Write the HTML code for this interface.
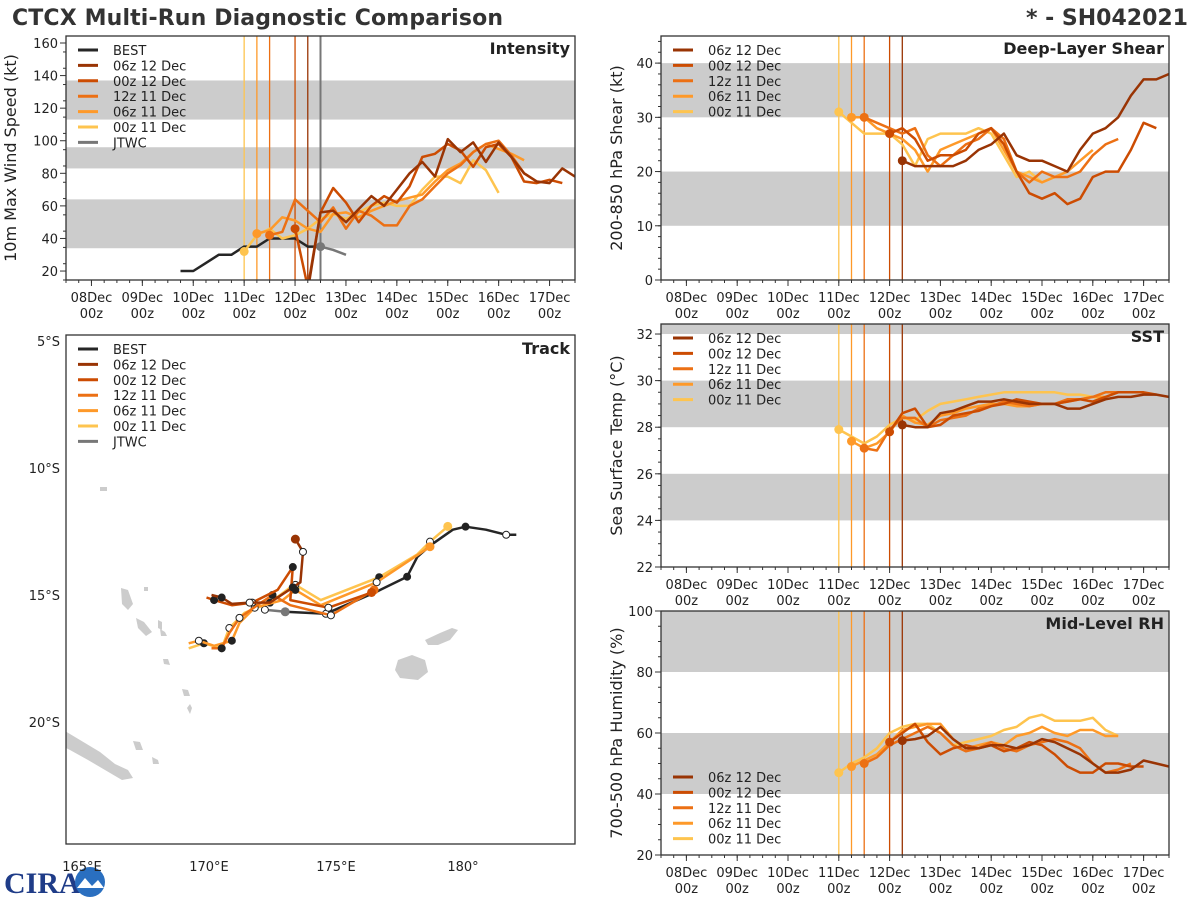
<!DOCTYPE html>
<html><head><meta charset="utf-8"><style>
body{margin:0;background:#fff;}
svg{display:block;font-family:"DejaVu Sans","Liberation Sans",sans-serif;}
</style></head><body>
<svg id="s" width="1200" height="900" viewBox="0 0 1200 900">
<text x="12" y="25" font-size="22" font-weight="bold" fill="#333" textLength="491">CTCX Multi-Run Diagnostic Comparison</text>
<text x="1188" y="25" font-size="22" font-weight="bold" fill="#333" text-anchor="end">* - SH042021</text>
<g>
<text x="4" y="893" font-size="30" font-weight="bold" fill="#1f3c88" font-family="Liberation Serif,serif">CIRA</text>
<circle cx="90" cy="882" r="15" fill="#2a6fc0"/>
<path d="M77,888 L85,878 L92,886 L98,880 L104,888 Z" fill="#fff"/>
</g>
</svg>
<script>
// ---- data ----
const seriesNames = ["06z 12 Dec","00z 12 Dec","12z 11 Dec","06z 11 Dec","00z 11 Dec"];
const seriesStart = [4.25, 4.0, 3.5, 3.25, 3.0];
const bestStart = 1.75;
const bestIntensity = [20,20,25,30,30,35,35,40,40,40,35,35];
const jtwcStart = 4.5;
const jtwcIntensity = [35,33,30];
const int06z12 = [8,56,57,50,58,66,60,70,80,87,78,101,93,99,87,99,90,80,75,74,83,78];
const int00z12 = [46,10,56,71,62,50,60,66,62,72,90,92,98,94,84,96,98,90,75,74,76,74];
const int12z11 = [42,44,64,57,50,59,46,57,54,48,48,60,64,72,80,85,93,98,100,91,80,75];
const int06z11 = [43,45,53,51,46,44,55,56,53,57,60,63,65,67,75,82,86,93,98,95,92,88];
const int00z11 = [32,42,46,40,42,46,52,55,52,56,60,62,60,60,70,78,78,74,88,82,68];
const shr06z12 = [22,21,21,21,21,22,24,25,27,23,22,22,21,20,24,27,28,30,34,37,37,38];
const shr00z12 = [27,28,26,22,23,23,24,27,28,25,20,16,15,16,14,15,19,20,20,24,29,28];
const shr12z11 = [30,29,28,27,28,23,21,23,25,26,28,26,20,18,20,19,19,20,23,25,26];
const shr06z11 = [30,30,28,27,26,24,20,24,25,26,27,28,24,20,19,18,19,20,22,24];
const shr00z11 = [31,29,27,27,27,25,21,26,27,27,27,28,27,23,19,20,18,19,20];
const sst06z12 = [28.1,28.0,28.0,28.6,28.7,28.9,29.1,29.1,29.2,29.1,29.0,29.0,29.0,28.8,28.8,29.0,29.2,29.3,29.3,29.4,29.4,29.3];
const sst00z12 = [27.8,28.6,28.8,28.0,28.1,28.5,28.6,28.7,28.9,29.0,29.2,29.1,29.0,29.0,29.1,29.2,29.1,29.3,29.5,29.5,29.5,29.4];
const sst12z11 = [27.1,27.0,27.9,28.4,28.4,28.0,28.3,28.4,28.5,28.8,28.9,29.1,29.0,28.9,29.0,29.0,29.2,29.2,29.3,29.5,29.5,29.5];
const sst06z11 = [27.4,27.1,27.3,27.8,28.5,28.2,28.1,28.5,28.6,28.8,28.9,29.0,29.0,28.9,28.9,29.0,29.0,29.1,29.2,29.3,29.3];
const sst00z11 = [27.9,27.6,27.3,27.6,28.1,28.4,28.3,28.7,29.0,29.1,29.2,29.3,29.4,29.5,29.5,29.5,29.5,29.5,29.4,29.4,29.3,29.2];
const rh06z12 = [57.5,58,59,62,58,55,55,56,56,55,56,58,57,55,53,50,47,47,48,51,50,49];
const rh00z12 = [57,60,63,57,53,55,56,55,56,54,55,57,56,53,49,47,47,50,50,49,49];
const rh12z11 = [50,52,56,58,60,62,60,56,54,55,57,55,54,56,57,58,57,55,50,47,48,50];
const rh06z11 = [49,51,53,57,61,62,63,63,58,55,56,57,56,59,60,62,60,59,61,61,59,59];
const rh00z11 = [47,50,52,55,60,62,63,63,60,56,57,58,59,61,62,65,66,64,64,64,65,61,59];
// tracks (lon degE, lat degS)
const bestLon = [182.1,181.7,180.9,180.1,179.6,178.7,178.2,177.8,176.6,174.6,173.0];
const bestLat = [12.63,12.63,12.43,12.31,12.43,13.06,13.50,14.28,14.87,15.74,15.66];
const jtwcLon = [173.0,172.2];
const jtwcLat = [15.66,15.58];
const trk06z12Lon = [173.4,173.7,173.6,173.3,172.4,171.6,170.9,170.5,170.1];
const trk06z12Lat = [12.8,13.3,14.5,14.7,15.3,15.3,15.35,15.1,15.0];
const trk00z12Lon = [176.4,174.7,173.2,173.3,172.7,171.7,170.9,170.2,169.9];
const trk00z12Lat = [14.9,15.5,15.2,13.9,14.8,15.3,15.4,15.2,15.1];
const trk12z11Lon = [176.5,174.8,173.2,172.5,171.9,171.2,170.8,170.5,170.1];
const trk12z11Lat = [14.8,15.8,15.4,15.0,15.4,15.9,16.5,17.1,17.1];
const trk06z11Lon = [178.7,176.6,174.4,173.4,172.9,171.8,171.2,170.9,170.2,169.6,169.2];
const trk06z11Lat = [13.1,14.5,15.4,14.8,15.2,15.5,16.1,16.8,17.0,16.8,16.9];
const trk00z11Lon = [179.4,178.7,178.2,176.7,174.4,173.4,173.2,172.4,171.4,170.8,170.5,169.8,169.2];
const trk00z11Lat = [12.3,12.9,13.4,14.3,15.2,14.6,14.7,15.3,15.7,16.3,17.1,16.9,17.1];
const shearBands = [[10,20],[30,40]];
const sstBands = [[24,26],[28,30],[32,33]];
const rhBands = [[40,60],[80,100]];
const intBands = [[34,64],[83,96],[113,137]];
const dayLabels = ["08Dec","09Dec","10Dec","11Dec","12Dec","13Dec","14Dec","15Dec","16Dec","17Dec"];
const initTimes = [3.0,3.25,3.5,4.0,4.25];

const colors = ["#993404","#cc4c02","#ec7014","#fe9929","#fec44f"];
const NS="http://www.w3.org/2000/svg";
const svg=document.getElementById('s');
function mk(tag,attrs,parent){const e=document.createElementNS(NS,tag);for(const k in attrs)e.setAttribute(k,attrs[k]);(parent||svg).appendChild(e);return e;}
function txt(x,y,s,attrs,parent){const e=mk('text',Object.assign({x:x,y:y,'font-size':13,fill:'#222'},attrs||{}),parent);e.textContent=s;return e;}

function timePanel(o){
  const g=mk('g',{});
  
  
  const X=d=>o.x0+(d+0.5)/10*(o.x1-o.x0);
  const Y=v=>o.y1-(v-o.vmin)/(o.vmax-o.vmin)*(o.y1-o.y0);
  const clip='c'+o.name;
  const cp=mk('clipPath',{id:clip},g);mk('rect',{x:o.x0,y:o.y0,width:o.x1-o.x0,height:o.y1-o.y0},cp);
  o.bands.forEach(b=>{const r=mk('rect',{x:o.x0,y:Y(Math.min(b[1],o.vmax)),width:o.x1-o.x0,height:Y(b[0])-Y(Math.min(b[1],o.vmax)),fill:'#cccccc'},g);
    });
  o.yticks.forEach(v=>{mk('line',{x1:o.x0-6,x2:o.x0,y1:Y(v),y2:Y(v),stroke:'#333'},g);
    const t=txt(o.x0-8,Y(v)+5,String(v),{'text-anchor':'end','font-size':13},g);
    });
  for(let v=o.vmin;v<=o.vmax;v+=o.minor){mk('line',{x1:o.x0-3,x2:o.x0,y1:Y(v),y2:Y(v),stroke:'#333'},g);}
  dayLabels.forEach((l,i)=>{mk('line',{x1:X(i),x2:X(i),y1:o.y1,y2:o.y1+6,stroke:'#333'},g);
    const t=txt(X(i),o.y1+22,l,{'text-anchor':'middle','font-size':13},g);
    
    const t2=txt(X(i),o.y1+38,'00z',{'text-anchor':'middle','font-size':13},g);
    });
  for(let d=-0.5;d<=9.5;d+=0.25){mk('line',{x1:X(d),x2:X(d),y1:o.y1,y2:o.y1+3,stroke:'#333'},g);}
  initTimes.forEach((t,i)=>{const l=mk('line',{x1:X(t),x2:X(t),y1:o.y0,y2:o.y1,stroke:colors[4-i],'stroke-width':1.3},g);
    });
  if(o.jtwcLine){const l=mk('line',{x1:X(4.5),x2:X(4.5),y1:o.y0,y2:o.y1,stroke:'#777','stroke-width':2},g);
    }
  const lg=mk('g',{'clip-path':'url(#'+clip+')'},g);
  function series(vals,start,col,nm,marker){
    const pts=vals.map((v,i)=>X(start+i*0.25).toFixed(1)+','+Y(v).toFixed(1)).join(' ');
    const p=mk('polyline',{points:pts,fill:'none',stroke:col,'stroke-width':2.5,'stroke-linejoin':'round'},lg);
    
    if(marker){const c=mk('circle',{cx:X(start),cy:Y(vals[0]),r:4.5,fill:col},lg);
    }
  }
  if(o.best){series(o.best,bestStart,'#262626','best-series',false);}
  if(o.jtwc){series(o.jtwc,jtwcStart,'#777777','jtwc-series',true);}
  for(let i=4;i>=0;i--) series(o.data[i],seriesStart[i],colors[i],'series-'+seriesNames[i].replace(/ /g,'-').toLowerCase(),true);
  mk('rect',{x:o.x0,y:o.y0,width:o.x1-o.x0,height:o.y1-o.y0,fill:'none',stroke:'#333','stroke-width':1.3},g);
  const tt=txt(o.x1-5,o.y0+18,o.title,{'text-anchor':'end','font-size':16,'font-weight':'bold',fill:'#222'},g);
  
  const yl=txt(0,0,o.ylabel,{'text-anchor':'middle','font-size':16,transform:'translate('+o.ylx+','+((o.y0+o.y1)/2)+') rotate(-90)'},g);
  
  let names=o.best?["BEST"].concat(seriesNames,["JTWC"]):seriesNames;
  let cols=o.best?["#262626"].concat(colors,["#777777"]):colors;
  const ly=o.legendY||(o.y0+14);
  names.forEach((n,i)=>{const y=ly+i*15.4;
    const l=mk('line',{x1:o.x0+12,x2:o.x0+32,y1:y,y2:y,stroke:cols[i],'stroke-width':3},g);
    
    const t=txt(o.x0+47,y+5,n,{'font-size':13},g);
    });
}
timePanel({name:'intensity',x0:66,x1:575,y0:36,y1:280,vmin:14.5,vmax:164.3,yticks:[20,40,60,80,100,120,140,160],minor:10,bands:intBands,title:'Intensity',ylabel:'10m Max Wind Speed (kt)',ylx:16,data:[int06z12,int00z12,int12z11,int06z11,int00z11],best:bestIntensity,jtwc:jtwcIntensity,jtwcLine:true});
timePanel({name:'shear',x0:661,x1:1169,y0:36,y1:280,vmin:0,vmax:45,yticks:[0,10,20,30,40],minor:2,bands:shearBands,title:'Deep-Layer Shear',ylabel:'200-850 hPa Shear (kt)',ylx:622,data:[shr06z12,shr00z12,shr12z11,shr06z11,shr00z11]});
timePanel({name:'sst',x0:661,x1:1169,y0:324,y1:567,vmin:22,vmax:32.43,yticks:[22,24,26,28,30,32],minor:0.5,bands:sstBands,title:'SST',ylabel:'Sea Surface Temp (°C)',ylx:622,data:[sst06z12,sst00z12,sst12z11,sst06z11,sst00z11]});
timePanel({name:'rh',x0:661,x1:1169,y0:611,y1:855,vmin:20,vmax:100,yticks:[20,40,60,80,100],minor:5,bands:rhBands,title:'Mid-Level RH',ylabel:'700-500 hPa Humidity (%)',ylx:622,legendY:777,data:[rh06z12,rh00z12,rh12z11,rh06z11,rh00z11]});
// ---- track panel ----
(function(){
  const x0=66,x1=575,y0=335,y1=844;
  const X=lon=>82+(lon-165)*25.4, Y=lat=>341+(lat-5)*25.4;
  const g=mk('g',{});
  
  
  const cp=mk('clipPath',{id:'ctrk'},g);mk('rect',{x:x0,y:y0,width:x1-x0,height:y1-y0},cp);
  const land=mk('g',{'clip-path':'url(#ctrk)',fill:'#cccccc'},g);
  
  const isl=["M60,728 L80,740 L100,752 L115,764 L128,770 L133,778 L122,780 L105,770 L88,760 L70,750 L60,745Z",
   "M398,660 L412,655 L425,660 L428,672 L418,680 L400,678 L395,670Z",
   "M425,640 L440,633 L452,628 L458,630 L450,640 L438,645 L428,645Z",
   "M121,588 L128,590 L133,604 L128,610 L122,604Z","M136,618 L144,622 L152,632 L146,636 L138,628Z",
   "M158,620 L162,622 L162,630 L158,628Z","M160,629 L165,632 L167,636 L161,636Z",
   "M163,659 L168,659 L170,665 L164,664Z","M182,689 L188,690 L190,696 L184,696Z","M190,704 L192,708 L190,714 L187,708Z",
   "M133,741 L140,742 L143,750 L136,750Z","M152,757 L158,760 L159,764 L153,764Z","M100,487 L107,487 L107,491 L100,491Z","M144,587 L148,587 L148,591 L144,591Z"];
  isl.forEach(d=>{const p=mk('path',{d:d},land);});
  const tg=mk('g',{'clip-path':'url(#ctrk)'},g);
  function track(lons,lats,col,nm,startMarker){
    const pts=lons.map((v,i)=>X(v).toFixed(1)+','+Y(lats[i]).toFixed(1)).join(' ');
    const p=mk('polyline',{points:pts,fill:'none',stroke:col,'stroke-width':2.5,'stroke-linejoin':'round'},tg);
    
    lons.forEach((v,i)=>{ if(i===0&&startMarker){const c=mk('circle',{cx:X(v),cy:Y(lats[i]),r:4.5,fill:col},tg);return;}
      if(i%2===1){const c=mk('circle',{cx:X(v),cy:Y(lats[i]),r:3.5,fill:(i%4===1)?'#fff':'#222',stroke:'#222','stroke-width':1},tg);
        }});
  }
  track(bestLon,bestLat,'#262626','best-track',false);
  track(jtwcLon,jtwcLat,'#777777','jtwc-track',true);
  const tl=[[trk00z11Lon,trk00z11Lat],[trk06z11Lon,trk06z11Lat],[trk12z11Lon,trk12z11Lat],[trk00z12Lon,trk00z12Lat],[trk06z12Lon,trk06z12Lat]];
  for(let i=4;i>=0;i--){const t=tl[4-i];track(t[0],t[1],colors[i],'track-'+seriesNames[i].replace(/ /g,'-').toLowerCase(),true);}
  mk('rect',{x:x0,y:y0,width:x1-x0,height:y1-y0,fill:'none',stroke:'#333','stroke-width':1.3},g);
  const tt=txt(x1-5,y0+19,'Track',{'text-anchor':'end','font-size':16,'font-weight':'bold'},g);
  
  [[165,'165°E'],[170,'170°E'],[175,'175°E'],[180,'180°']].forEach(a=>{const t=txt(X(a[0]),871,a[1],{'text-anchor':'middle','font-size':13},g);
    });
  [[5,'5°S'],[10,'10°S'],[15,'15°S'],[20,'20°S']].forEach(a=>{const t=txt(60,Y(a[0])+5,a[1],{'text-anchor':'end','font-size':13},g);
    });
  const names=["BEST"].concat(seriesNames,["JTWC"]),cols=["#262626"].concat(colors,["#777777"]);
  names.forEach((n,i)=>{const y=y0+14+i*15.4;
    const l=mk('line',{x1:x0+12,x2:x0+32,y1:y,y2:y,stroke:cols[i],'stroke-width':3},g);
    
    const t=txt(x0+47,y+5,n,{'font-size':13},g);
    });
})();
</script>
</body></html>
